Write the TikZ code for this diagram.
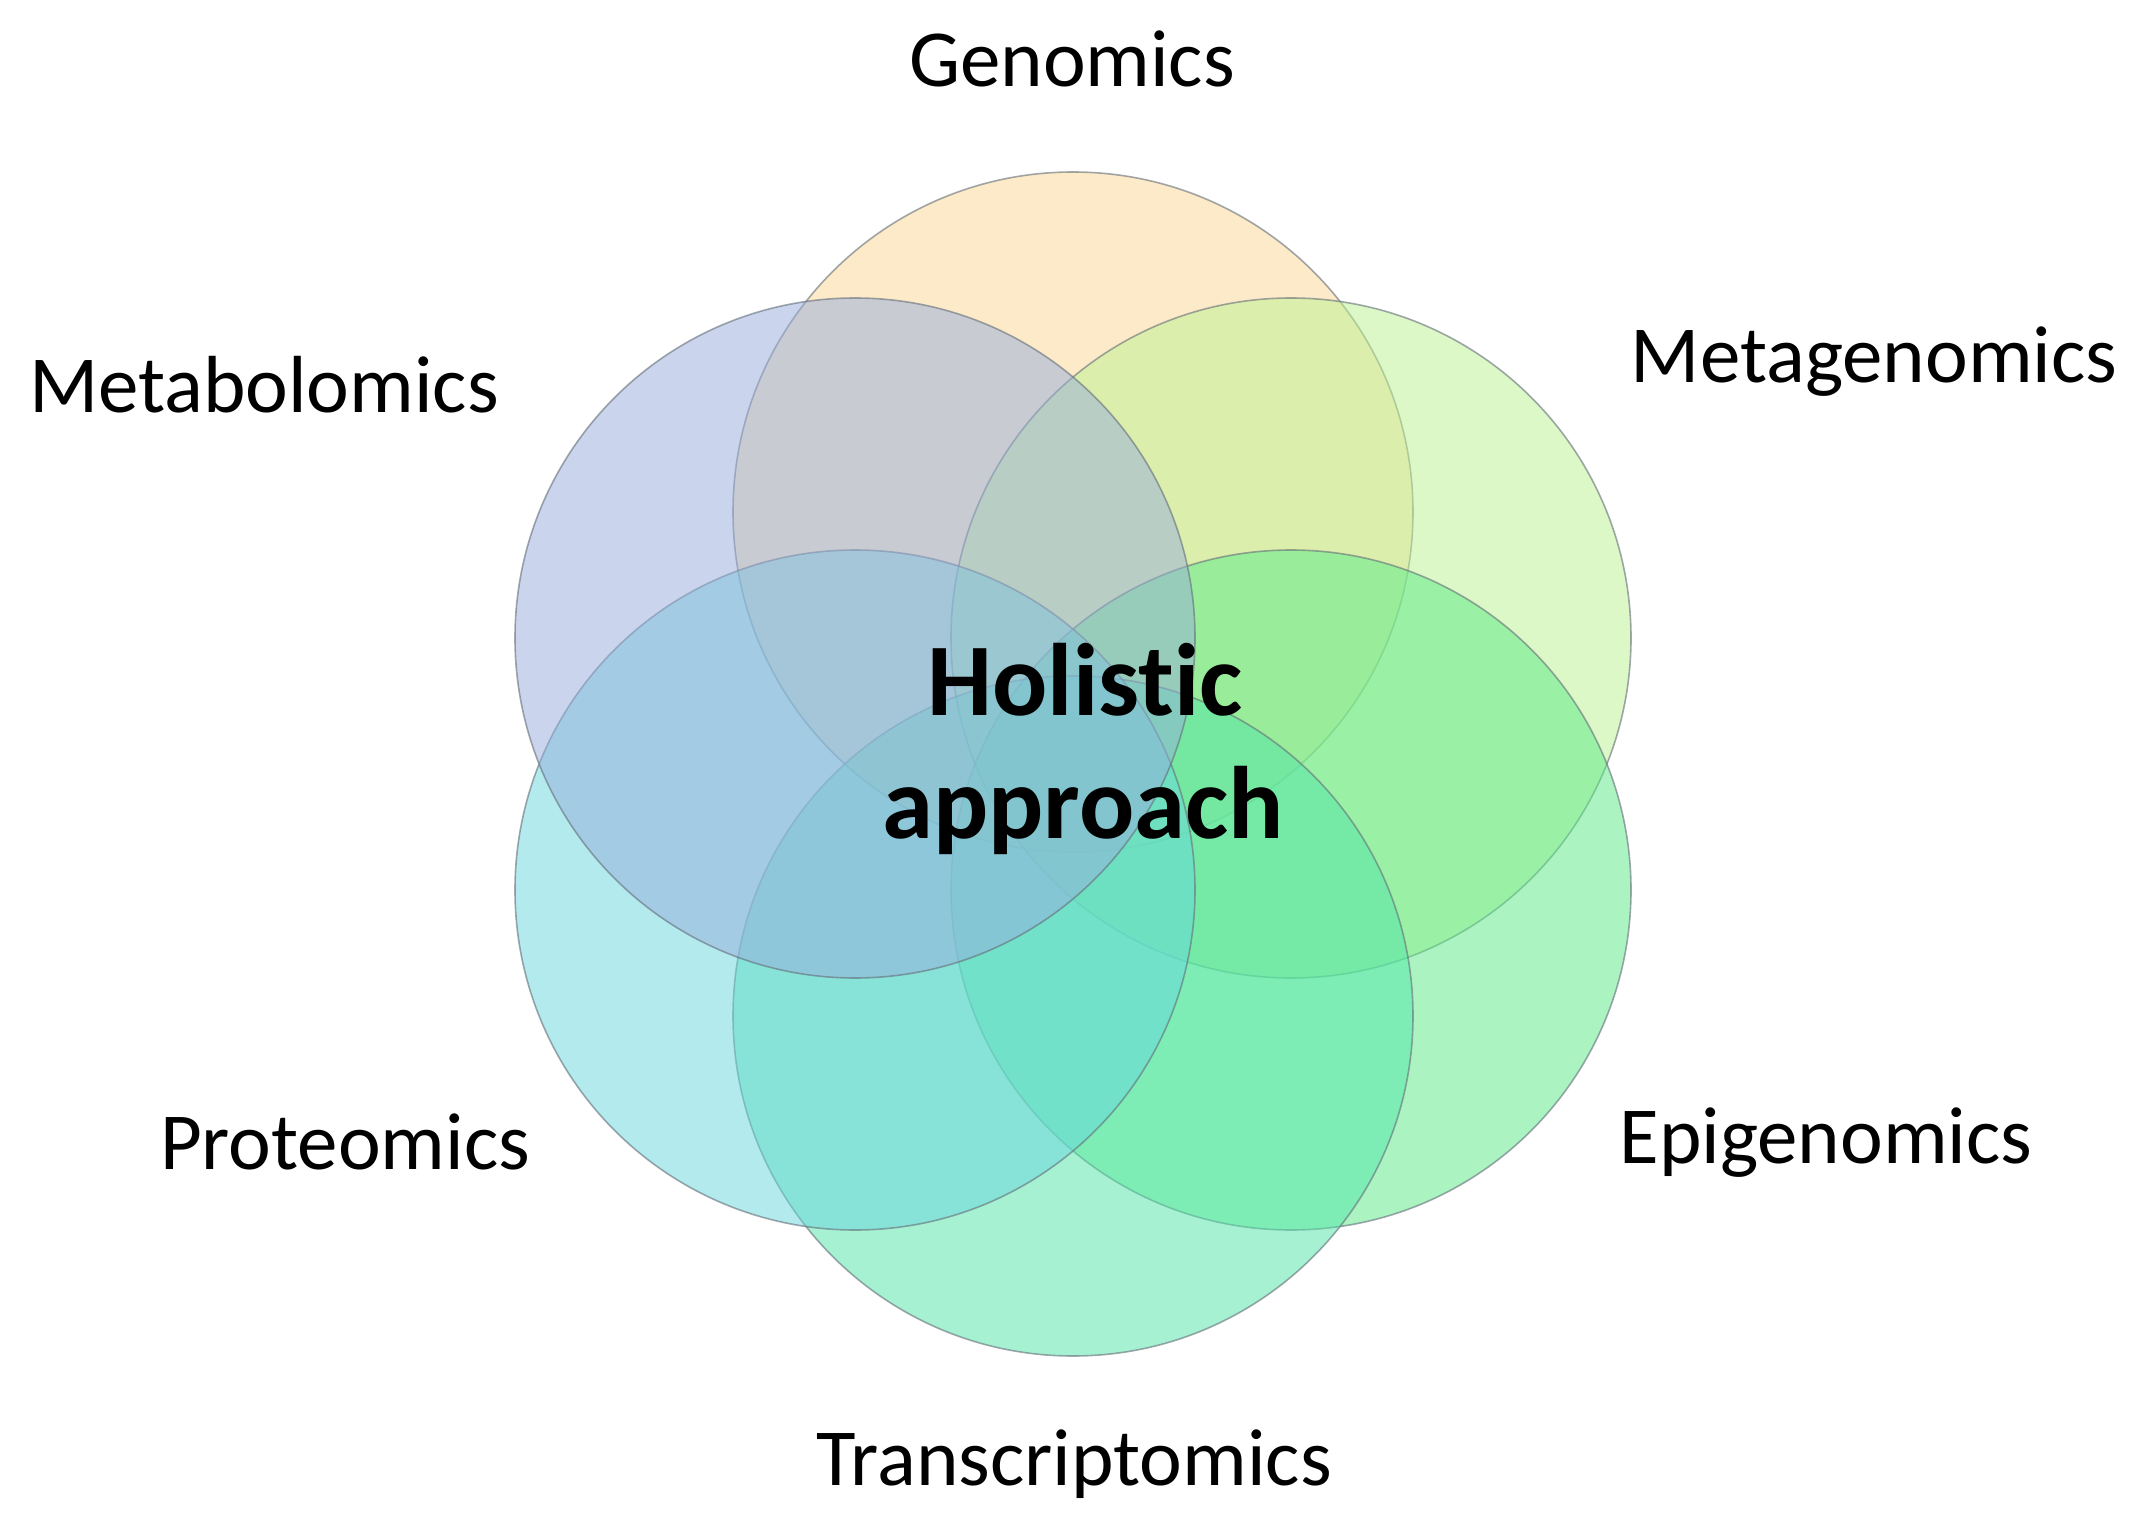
\documentclass[tikz,border=0pt]{standalone}
\usepackage{fontspec}
\setmainfont{Carlito}[Ligatures=NoCommon]
\definecolor{cGen}{RGB}{251,215,148}
\definecolor{cMeg}{RGB}{187,243,145}
\definecolor{cEpi}{RGB}{89,235,135}
\definecolor{cTra}{RGB}{81,229,169}
\definecolor{cPro}{RGB}{105,215,221}
\definecolor{cMet}{RGB}{151,173,221}
\definecolor{cEdge}{RGB}{100,110,120}
\begin{document}
\begin{tikzpicture}[x=1pt,y=-1pt,
  venn/.style={fill opacity=0.5,draw=cEdge,draw opacity=0.6,line width=1.6pt},
  lab/.style={anchor=base,inner sep=0pt,font=\fontsize{81}{96}\selectfont},
  mid/.style={anchor=base,inner sep=0pt,font=\fontsize{103}{124}\selectfont\bfseries}]
\useasboundingbox (0,0) rectangle (2145,1530);
\fill[white] (0,0) rectangle (2145,1530);
% circles, drawn in clockwise order from the top
\path[venn,fill=cGen] (1073,512) circle[radius=340pt];
\path[venn,fill=cMeg] (1291,638) circle[radius=340pt];
\path[venn,fill=cEpi] (1291,890) circle[radius=340pt];
\path[venn,fill=cTra] (1073,1016) circle[radius=340pt];
\path[venn,fill=cPro] (855,890) circle[radius=340pt];
\path[venn,fill=cMet] (855,638) circle[radius=340pt];
% labels
\node[lab] (gen) at (1072,87) {Genomics};
\node[lab] (meg) at (1874,382) {Metagenomics};
\node[lab] (epi) at (1826,1163) {Epigenomics};
\node[lab] (tra) at (1074,1485) {Transcriptomics};
\node[lab] (pro) at (345,1169) {Proteomics};
\node[lab] (met) at (264,412) {Metabolomics};
\node[mid] (hol1) at (1085,715) {Holistic};
\node[mid] (hol2) at (1083,838) {approach};
\end{tikzpicture}
\end{document}
